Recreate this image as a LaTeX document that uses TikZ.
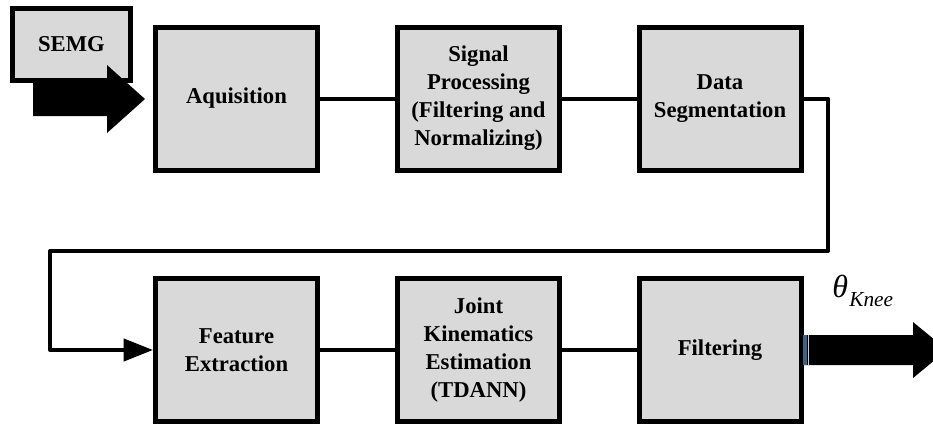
\documentclass[tikz,border=0pt]{standalone}
\usepackage{fontspec}
\setmainfont{Liberation Serif}
\usetikzlibrary{arrows.meta}
\definecolor{boxgray}{HTML}{D9D9D9}
\definecolor{jointblue}{HTML}{3D6388}
\begin{document}
\begin{tikzpicture}[x=0.75pt,y=-0.75pt,
  stage/.style={draw=black, line width=3.75pt, fill=boxgray,
    minimum width=121.5pt, minimum height=107.25pt, inner sep=0pt,
    align=center, font=\fontsize{17}{21}\selectfont\bfseries},
  source/.style={stage, minimum width=88.5pt, minimum height=54pt},
  link/.style={line width=3pt, line join=round},
  blockarrow/.style={fill=black}]
\useasboundingbox (0,0) rectangle (933,425);

% input block and its broad arrow
\node[source] (semg) at (71.5,44.5) {SEMG};
\fill[blockarrow] (33,83) -- (107,83) -- (107,65) -- (145,99)
  -- (107,133) -- (107,116) -- (33,116) -- cycle;

% processing stages
\node[stage] (acq)   at (236.5,98.5) {Aquisition};
\node[stage] (sig)   at (478.5,98.5) {Signal\\Processing\\(Filtering and\\Normalizing)};
\node[stage] (seg)   at (720,98.5)   {Data\\Segmentation};
\node[stage] (feat)  at (236.5,350)  {Feature\\Extraction};
\node[stage] (joint) at (478.5,350)  {Joint\\Kinematics\\Estimation\\(TDANN)};
\node[stage] (filt)  at (720,350)    {Filtering};

% connectors
\draw[link] (acq.east) -- (sig.west);
\draw[link] (sig.east) -- (seg.west);
\draw[link, -{Triangle[length=22pt,width=16.5pt]}]
  (seg.east) -- (828,98.5) -- (828,251) -- (50,251) -- (50,350) -- (feat.west);
\draw[link] (feat.east) -- (joint.west);
\draw[link] (joint.east) -- (filt.west);

% output arrow with its label
\fill[blockarrow] (803,335) -- (913,335) -- (913,322) -- (947,350)
  -- (913,378) -- (913,365) -- (803,365) -- cycle;
\fill[jointblue] (803,335) rectangle (807,365);
\draw[white!70!jointblue, line width=1pt] (808.5,335) -- (808.5,365);
\node[anchor=base west, inner sep=0pt] (theta) at (832,297)
  {\fontsize{24}{24}\selectfont\itshape θ\kern1pt\raisebox{-7pt}{\fontsize{16}{16}\selectfont Knee}};
\end{tikzpicture}
\end{document}
